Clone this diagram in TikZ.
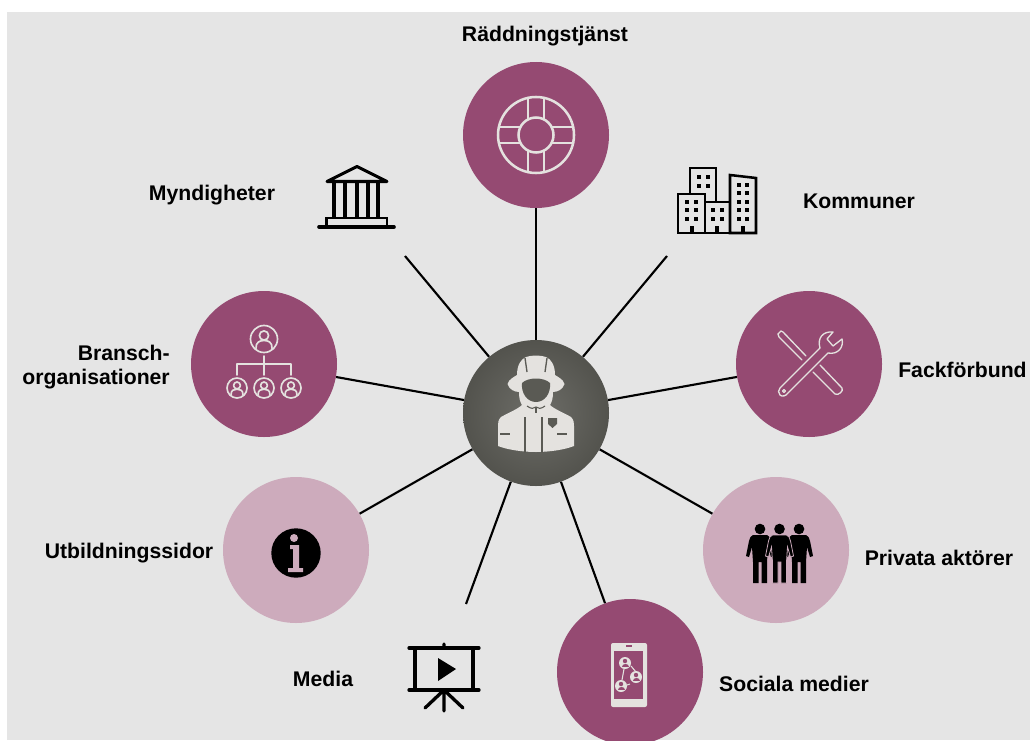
\documentclass[tikz,border=0pt]{standalone}
\usepackage{fontspec}
\setmainfont{Liberation Sans}
\definecolor{bgc}{HTML}{E5E5E5}
\definecolor{plum}{HTML}{954A72}
\definecolor{lplum}{HTML}{CDABBC}
\definecolor{hubc}{HTML}{5A5A54}
\definecolor{icl}{HTML}{E4E2DF}
\tikzset{
 x=0.75pt,y=-0.75pt,
 disc/.style={circle,inner sep=0pt,minimum size=109.5pt,fill=plum},
 ldisc/.style={disc,fill=lplum},
 hub/.style={circle,inner sep=0pt,minimum size=109.5pt,inner color=hubc!88!white,outer color=hubc!92!black},
 spoke/.style={draw=black,line width=1.6pt},
 lab/.style={font=\fontsize{15.9pt}{18.6pt}\selectfont\bfseries,inner sep=0pt,align=center},
 wl/.style={draw=icl,line width=1.9pt,line join=round,line cap=round},
 wf/.style={wl,line width=1.25pt},
 bl/.style={draw=black,line width=1.9pt,line join=miter},
}
\begin{document}
\begin{tikzpicture}
\useasboundingbox (0,0) rectangle (1030,742);
\fill[white] (0,0) rectangle (1030,742);
\fill[bgc] (7,12) rectangle (1030,740);
\begin{scope}
\clip (0,0) rectangle (1030,740);
\node[disc] (rad) at (536,135) {};
\node[disc] (fack) at (809,364) {};
\node[ldisc] (priv) at (776,550) {};
\node[disc] (soc) at (630,672) {};
\node[ldisc] (utb) at (296,550) {};
\node[disc] (bran) at (264,364) {};
\node[hub] (hub) at (536,413) {};
\end{scope}
\coordinate (kom) at (667,256);
\coordinate (myn) at (405,256);
\coordinate (med) at (466,604);
% spokes
\draw[spoke] (hub) -- (rad);
\draw[spoke] (hub) -- (kom);
\draw[spoke] (hub) -- (fack);
\draw[spoke] (hub) -- (priv);
\draw[spoke] (hub) -- (soc);
\draw[spoke] (hub) -- (utb);
\draw[spoke] (hub) -- (bran);
\draw[spoke] (hub) -- (myn);
\draw[spoke] (hub) -- (med);
% labels
\node[lab] (t1) at (545,36) {Räddningstjänst};
\node[lab] (t2) at (212,195) {Myndigheter};
\node[lab] (t3) at (859,201) {Kommuner};
\node[lab,align=right,anchor=east] (t4) at (170,367) {Bransch-\\organisationer};
\node[lab,anchor=west] (t5) at (898,370) {Fackförbund};
\node[lab] (t6) at (129,553.5) {Utbildningssidor};
\node[lab] (t7) at (939,558) {Privata aktörer};
\node[lab] (t8) at (323,679) {Media};
\node[lab] (t9) at (794,684) {Sociala medier};
% lifebuoy
\begin{scope}[shift={(536,135)}]
\draw[wl] (0,0) circle (38);
\draw[wl] (0,0) circle (17.5);
\foreach \a in {0,90,180,270}{
 \begin{scope}[rotate=\a]
 \draw[wl] (-8,-16) -- (-8,-37);
 \draw[wl] (8,-16) -- (8,-37);
 \end{scope}}
\end{scope}
% firefighter
\begin{scope}[shift={(536,413)}]
\fill[icl] (-28.5,-29) .. controls (-27,-34) and (-22,-36) .. (-19,-38)
 .. controls (-19,-48) and (-15,-54) .. (-10,-56) .. controls (-4,-58) and (4,-58) .. (10,-56)
 .. controls (15,-54) and (19,-48) .. (19,-38)
 .. controls (22,-36) and (27,-34) .. (28.5,-29)
 .. controls (27,-24) and (22,-21) .. (17,-21)
 .. controls (17,-15) and (16,-11) .. (14,-8)
 .. controls (18,-4) and (30,1) .. (35,4)
 .. controls (38,7) and (38,10) .. (38,13) -- (38,33)
 .. controls (28,37) and (12,39) .. (0,39) .. controls (-12,39) and (-28,37) .. (-38,33)
 -- (-38,13) .. controls (-38,10) and (-38,7) .. (-35,4)
 .. controls (-30,1) and (-18,-4) .. (-14,-8)
 .. controls (-16,-11) and (-17,-15) .. (-17,-21)
 .. controls (-22,-21) and (-27,-24) .. (-28.5,-29) -- cycle;
\fill[hubc] (-14,-30) .. controls (-8,-36) and (8,-36) .. (14,-30)
 .. controls (15,-20) and (9,-11) .. (0,-11) .. controls (-9,-11) and (-15,-20) .. (-14,-30) -- cycle;
\draw[hubc,line width=1pt] (-11,-55) -- (-9,-41) (11,-55) -- (9,-41);
\draw[hubc,line width=0.8pt] (-9,-7) .. controls (-5,-4) and (-2,-4) .. (0,-6) .. controls (2,-4) and (5,-4) .. (9,-7);
\draw[hubc,line width=0.8pt] (0,-6) -- (0,0);
\draw[hubc,line width=1.1pt] (-11,4) -- (-11,40) (6,4) -- (6,40);
\draw[hubc,line width=1.6pt] (-36,21) -- (-26,21) (21,21) -- (31,21);
\fill[hubc] (12,5) -- (21,5) -- (21,11) -- (16.5,15) -- (12,11) -- cycle;
\end{scope}
% buildings
\draw[bl,fill=bgc] (690,233) -- (690,168) -- (716,168) -- (716,233);
\draw[bl,fill=bgc] (678,233) -- (678,194) -- (705,194) -- (705,233) -- cycle;
\draw[bl,fill=bgc] (705,233) -- (705,202) -- (730,202) -- (730,233) -- cycle;
\draw[bl,fill=bgc] (730,233) -- (730,175) -- (756,178) -- (756,233) -- cycle;
\foreach \x/\y in {699/177,708/177,699/186,708/186,
 687/202,696/202,687/210,696/210,687/219,696/219,
 713/210,722/210,713/219,722/219,
 739/185,747/185,739/193,747/193,739/202,747/202,739/210,747/210,739/219,747/219}
 \fill[black] (\x-2.2,\y-2.2) rectangle (\x+2.2,\y+2.2);
\foreach \x in {692,717,743} \fill[black] (\x-2,226) rectangle (\x+2,233);
% temple
\draw[black,line width=2.3pt,line cap=round,line join=round] (327,181.5) -- (357,166.5) -- (387,181.5) -- cycle;
\foreach \x in {334,345,357,368,378} \draw[black,line width=2.6pt] (\x,181) -- (\x,218);
\draw[black,line width=1.8pt] (326.5,227) -- (326.5,218) -- (387,218) -- (387,227);
\draw[black,line width=2.7pt,line cap=round] (319,227) -- (394,227);
% org chart
\begin{scope}[shift={(264,339)}]
\foreach \x/\y/\r in {0/0/13.5,-27/49/10,0/49/10,27/49/10}{
 \begin{scope}[shift={(\x,\y)},scale=\r/13.5]
 \draw[wf] (0,0) circle (13.5);
 \draw[wf] (0,-3.5) circle (4.6);
 \draw[wf] (-8,9.5) .. controls (-8.5,3) and (-4,1.5) .. (0,1.5) .. controls (4,1.5) and (8.5,3) .. (8,9.5);
 \end{scope}}
\draw[wf] (0,17) -- (0,36) (-27,36) -- (-27,25) -- (27,25) -- (27,36);
\end{scope}
% tools
\begin{scope}[shift={(809,364)}]
\draw[wf,line width=1pt] (-31,-30) -- (-28,-33) -- (-26,-32) -- (-3,-8);
\draw[wf,line width=1pt] (-31,-30) -- (-30,-27) -- (-7,-4);
\draw[wf,line width=1pt] (4,8) -- (26,30) .. controls (29,32) and (35,27) .. (33,24) -- (11,1);
\draw[wf,line width=1pt,fill=plum] (-29,31) .. controls (-31,29) and (-31,26) .. (-29,24) -- (11,-16)
 .. controls (8,-26) and (14,-33) .. (24,-32)
 -- (18,-25) -- (24,-18) -- (33,-25)
 .. controls (35,-17) and (29,-9) .. (19,-11) -- (-21,29)
 .. controls (-23,32) and (-27,33) .. (-29,31) -- cycle;
\draw[wf,line width=1pt] (-25,27) circle (1.5);
\end{scope}
% people
\begin{scope}[shift={(779.5,553)}]
\foreach \x in {-19.5,0,19.5} \fill[black] (\x,-24) circle (5.3);
\foreach \x in {-19.5,19.5}{
\begin{scope}[shift={(\x,0)}]
\fill[black] (-7,-18) -- (7,-18) .. controls (9,-17.5) and (10.5,-15) .. (11,-12) -- (14,3) -- (11,4) -- (8,-6) -- (7,9) -- (7,30) -- (1.5,30) -- (1.5,9) -- (-1.5,9) -- (-1.5,30) -- (-7,30) -- (-7,9) -- (-8,-6) -- (-11,4) -- (-14,3) -- (-11,-12) .. controls (-10.5,-15) and (-9,-17.5) .. (-7,-18) -- cycle;
\end{scope}}
\fill[black,draw=lplum,line width=0.6pt] (-7,-18) -- (7,-18) .. controls (9,-17.5) and (10.5,-15) .. (11,-12) -- (14,3) -- (11,4) -- (8,-6) -- (7,9) -- (7,30) -- (1.5,30) -- (1.5,9) -- (-1.5,9) -- (-1.5,30) -- (-7,30) -- (-7,9) -- (-8,-6) -- (-11,4) -- (-14,3) -- (-11,-12) .. controls (-10.5,-15) and (-9,-17.5) .. (-7,-18) -- cycle;
\end{scope}
% screen
\begin{scope}[shift={(444,676)}]
\draw[black,line width=2.5pt,line cap=round] (-35,-28) -- (35,-28) (-35,14) -- (35,14);
\draw[black,line width=3pt] (-29,-28) -- (-29,14) (29,-28) -- (29,14);
\draw[black,line width=2.5pt,line cap=round] (0,-32) -- (0,-28) (0,14) -- (0,35) (0,14) -- (-19,32) (0,14) -- (19,32);
\fill[black] (-6,-18) -- (12,-7) -- (-6,5) -- cycle;
\end{scope}
% phone
\begin{scope}[shift={(629,675)}]
\fill[icl,rounded corners=1.5pt] (-18,-32) rectangle (18,32);
\fill[plum] (-15,-24) rectangle (14,24);
\draw[plum,line width=0.9pt] (-3,-29) -- (3,-29);
\draw[icl,line width=0.8pt] (-5,-6) -- (-7,5) (2,-9) -- (7,-3) (1,9) -- (-2,10);
\foreach \x/\y in {-4/-12,7/2,-8/11}{
 \fill[icl] (\x,\y) circle (6);
 \fill[plum] (\x,\y-2) circle (2.2);
 \fill[plum] (\x-3.5,\y+3.5) .. controls (\x-3.5,\y) and (\x+3.5,\y) .. (\x+3.5,\y+3.5) -- cycle;
}
\end{scope}
% info
\begin{scope}[shift={(296,553)}]
\fill[black] (0,0) circle (24.7);
\fill[lplum] (-2,-15) circle (4);
\fill[lplum] (-6,-8) -- (3,-8) -- (3,15) -- (7,15) -- (7,19) -- (-8,19) -- (-8,15) -- (-3,15) -- (-3,-4) -- (-6,-4) -- cycle;
\end{scope}
\end{tikzpicture}
\end{document}
